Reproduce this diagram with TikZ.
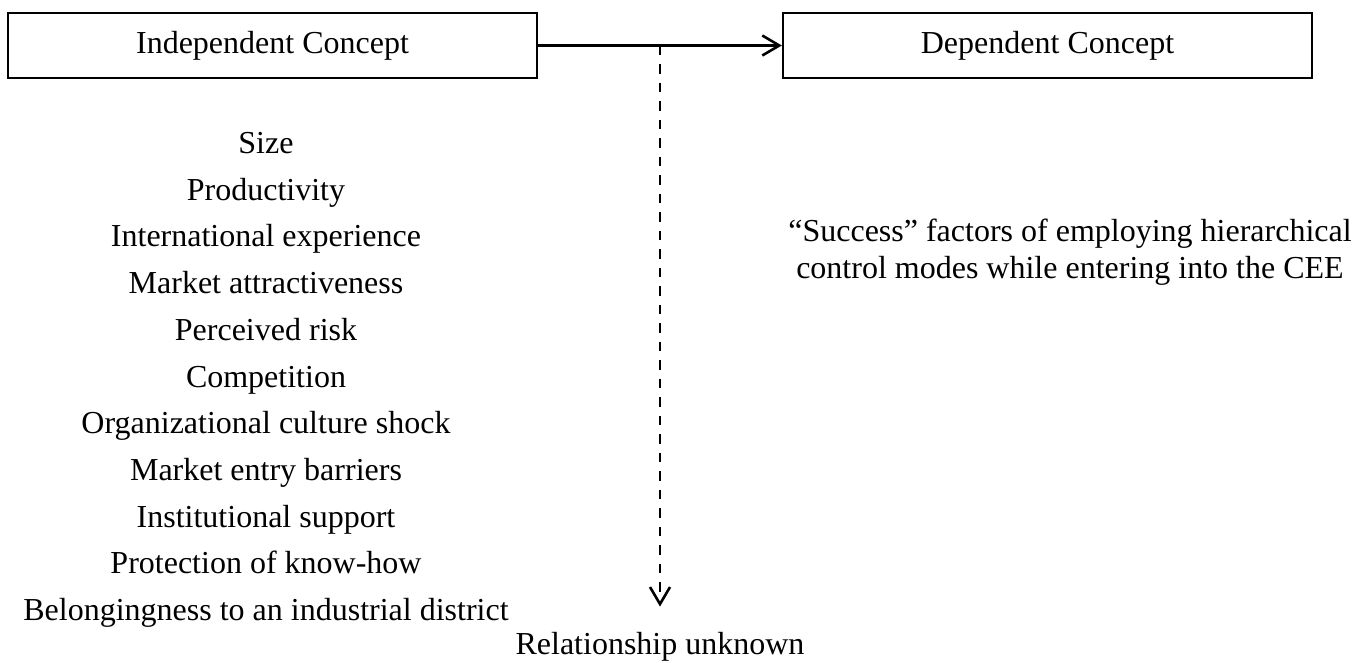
\documentclass[tikz,border=0pt]{standalone}
\usepackage{fontspec}
\setmainfont{Liberation Serif}
\usetikzlibrary{arrows.meta,calc}
\begin{document}
\begin{tikzpicture}[x=1pt,y=-1pt,
  every node/.style={font=\fontsize{32}{37}\selectfont, inner sep=0pt},
  concept/.style={draw, line width=2.3pt, minimum width=529pt, minimum height=65pt},
  factor/.style={anchor=base},
  link/.style={line width=2.6pt, -{Straight Barb[length=17pt,width=20pt,line width=2.6pt]}},
  unknown/.style={link, dash pattern=on 9.5pt off 9pt}]
\useasboundingbox[fill=white] (0,0) rectangle (1368,662);

% the two concept boxes and the causal arrow between them
\node[concept] (ind) at (272.5,45.5) {Independent Concept};
\node[concept] (dep) at (1047.5,45.5) {Dependent Concept};
\draw[link] (ind.east) -- (dep.west);

% dashed branch to the unknown relationship
\coordinate (mid) at ($(ind.east)!0.5!(dep.west)$);
\node[factor] (rel) at (660,654) {Relationship unknown};
\coordinate (relend) at ($(rel.north)+(0,-25)$);
\draw[unknown] (mid) -- (relend);

% independent factors
\node[factor] (f1)  at (266,153.5) {Size};
\node[factor] (f2)  at (266,200.2) {Productivity};
\node[factor] (f3)  at (266,246.9) {International experience};
\node[factor] (f4)  at (266,293.6) {Market attractiveness};
\node[factor] (f5)  at (266,340.3) {Perceived risk};
\node[factor] (f6)  at (266,387.0) {Competition};
\node[factor] (f7)  at (266,433.7) {Organizational culture shock};
\node[factor] (f8)  at (266,480.4) {Market entry barriers};
\node[factor] (f9)  at (266,527.1) {Institutional support};
\node[factor] (f10) at (266,573.8) {Protection of know-how};
\node[factor] (f11) at (266,620.5) {Belongingness to an industrial district};

% dependent outcome
\node[align=center] (succ) at (1070,252)
  {“Success” factors of employing hierarchical\\control modes while entering into the CEE};
\end{tikzpicture}
\end{document}
